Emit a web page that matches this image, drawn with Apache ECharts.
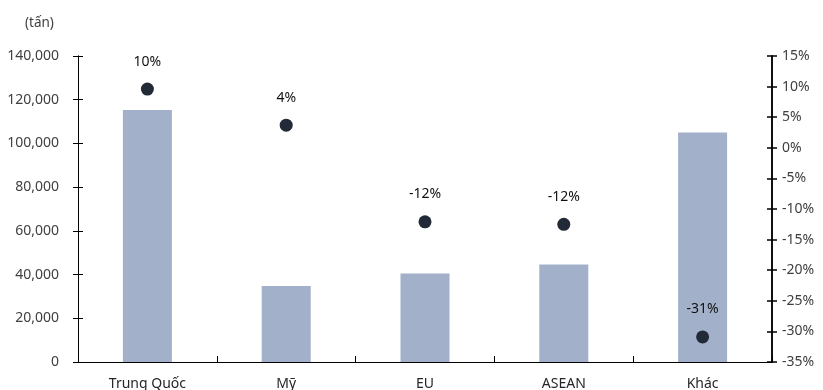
<!DOCTYPE html>
<html><head><meta charset="utf-8">
<script src="https://cdn.jsdelivr.net/npm/echarts@6/dist/echarts.min.js"></script>
<style>html,body{margin:0;padding:0;background:#fff}#c{width:823px;height:390px}</style>
</head><body><div id="c"></div>
<script>
const categories = ['Trung Quốc', 'Mỹ', 'EU', 'ASEAN', 'Khác'];
const volume = [115300, 34800, 40500, 44600, 105000];
const growth = [9.6, 3.7, -12.1, -12.5, -30.9];
const growthLabels = ['10%', '4%', '-12%', '-12%', '-31%'];

const font = 'Noto Sans';
const chart = echarts.init(document.getElementById('c'));
const leftBase = {
  type: 'value', min: 0, max: 140000, interval: 20000, position: 'left',
  splitLine: { show: false },
  axisLine: { show: true, lineStyle: { color: '#000', width: 1 } }
};
const rightBase = {
  type: 'value', min: -35, max: 15, interval: 5, position: 'right',
  splitLine: { show: false },
  axisLine: { show: true, lineStyle: { color: '#000', width: 1.5 } }
};
chart.setOption({
  animation: false,
  textStyle: { fontFamily: font },
  title: { text: '(tấn)', left: 20, top: 11, textStyle: { fontFamily: font, fontSize: 13.5, fontWeight: 'normal', color: '#404040' } },
  grid: { left: 78, right: 51, top: 56, bottom: 28, containLabel: false, outerBoundsMode: 'none' },
  xAxis: {
    type: 'category', data: categories,
    axisLine: { lineStyle: { color: '#000', width: 1 } },
    axisTick: { show: true, inside: true, length: 6, lineStyle: { color: '#000' } },
    axisLabel: { fontFamily: font, fontSize: 14, color: '#262626', margin: 15 }
  },
  yAxis: [
    Object.assign({}, leftBase, {
      axisTick: { show: true, length: 5, lineStyle: { color: '#000' } },
      axisLabel: { fontFamily: font, fontSize: 14, color: '#404040', margin: 19,
        formatter: v => v.toLocaleString('en-US') }
    }),
    Object.assign({}, rightBase, {
      axisTick: { show: true, length: 5, lineStyle: { color: '#000', width: 1.5 } },
      axisLabel: { fontFamily: font, fontSize: 14, color: '#404040', margin: 10,
        formatter: v => v + '%' }
    }),
    Object.assign({}, leftBase, {
      axisTick: { show: true, inside: true, length: 5, lineStyle: { color: '#000' } },
      axisLabel: { show: false }
    }),
    Object.assign({}, rightBase, {
      axisTick: { show: true, inside: true, length: 5, lineStyle: { color: '#000', width: 1.5 } },
      axisLabel: { show: false }
    })
  ],
  series: [
    {
      type: 'bar', data: volume, yAxisIndex: 0, barWidth: 49,
      itemStyle: { color: '#a2b1c9' }
    },
    {
      type: 'scatter', data: growth, yAxisIndex: 1, symbolSize: 13,
      itemStyle: { color: '#222a38', opacity: 1 },
      label: { show: true, position: 'top', distance: 14, fontFamily: font, fontSize: 14, color: '#111',
        formatter: p => growthLabels[p.dataIndex] }
    }
  ]
});
</script></body></html>
